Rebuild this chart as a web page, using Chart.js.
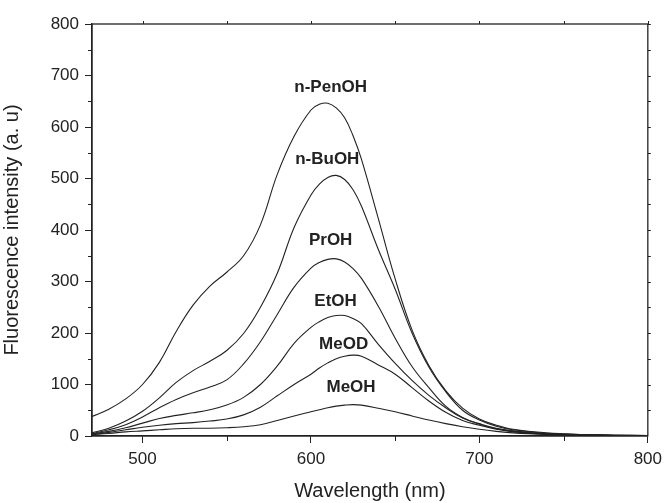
<!DOCTYPE html>
<html>
<head>
<meta charset="utf-8">
<script src="https://cdn.jsdelivr.net/npm/chart.js@4.4.0/dist/chart.umd.min.js"></script>
<style>
  html, body { margin: 0; padding: 0; background: #fff; }
  #wrap { width: 668px; height: 503px; position: relative; }
</style>
</head>
<body>
<div id="wrap"><canvas id="spectra"></canvas></div>
<script>
// wavelength grid (nm) shared by all spectra
const wavelengths = [470, 480, 490, 500, 510, 520, 530, 540, 550, 560, 570, 580, 590, 600, 605, 610, 615, 620, 625, 630, 640, 650, 660, 670, 680, 690, 700, 710, 720, 740, 760, 780, 800];

// fluorescence intensity (a. u)
const nPenOH = [38, 52, 72, 100, 143, 203, 254, 291, 318, 350, 410, 508, 582, 633, 644, 646, 637, 618, 583, 537, 422, 305, 206, 137, 88, 54, 33, 21, 13, 6, 3, 2, 1];
const nBuOH  = [6, 15, 29, 48, 74, 104, 127, 145, 166, 199, 250, 316, 405, 468, 489, 502, 506, 498, 478, 446, 362, 285, 200, 134, 86, 50, 31, 19, 12, 5, 3, 1.5, 1];
const PrOH   = [5, 12, 22, 37, 55, 71, 84, 95, 109, 140, 183, 236, 289, 326, 337, 343, 344, 338, 325, 306, 252, 190, 135, 94, 58, 36, 23, 14, 9, 4, 2, 1, 0.5];
const EtOH   = [4, 9, 16, 25, 34, 40, 45, 51, 60, 75, 100, 136, 180, 211, 222, 230, 234, 234, 228, 218, 178, 141, 108, 79, 55, 35, 24, 15, 10, 4, 2, 1, 0.5];
const MeOD   = [3, 7, 12, 17, 21, 24, 26, 29, 33, 41, 56, 78, 100, 120, 132, 142, 150, 155, 157, 155, 138, 120, 94, 68, 46, 30, 21, 13, 8, 4, 2, 1, 0.5];
const MeOH   = [3, 5, 8, 10, 12, 14, 15, 15, 16, 18, 22, 30, 39, 47, 51, 55, 58, 60, 61, 60, 54, 47, 39, 31, 24, 18, 13, 9, 6, 3, 1.5, 1, 0.5];

const seriesNames = ['n-PenOH', 'n-BuOH', 'PrOH', 'EtOH', 'MeOD', 'MeOH'];
const seriesValues = [nPenOH, nBuOH, PrOH, EtOH, MeOD, MeOH];

// where each curve name sits (data coordinates)
const labelWavelength = [611.7, 609.7, 611.7, 614.6, 619.4, 623.8];
const labelIntensity  = [677, 537, 380, 261, 179, 95];

const xTicks = [500, 600, 700, 800];
const yTicks = [0, 100, 200, 300, 400, 500, 600, 700, 800];

const ink = '#222';

const curveLabels = {
  id: 'curveLabels',
  afterDatasetsDraw(chart) {
    const { ctx, scales: { x, y } } = chart;
    ctx.save();
    ctx.font = 'bold 17px "Liberation Sans", Arial, sans-serif';
    ctx.fillStyle = ink;
    ctx.textAlign = 'center';
    ctx.textBaseline = 'middle';
    seriesNames.forEach((name, i) => {
      ctx.fillText(name, x.getPixelForValue(labelWavelength[i]), y.getPixelForValue(labelIntensity[i]));
    });
    ctx.restore();
  }
};

// box round the plot plus the small 50-step ticks
const frame = {
  id: 'frame',
  afterDraw(chart) {
    const { ctx, chartArea: a, scales: { x, y } } = chart;
    ctx.save();
    ctx.strokeStyle = ink;
    ctx.lineWidth = 1.3;
    ctx.strokeRect(a.left, a.top, a.right - a.left, a.bottom - a.top);
    ctx.lineWidth = 1;
    ctx.beginPath();
    for (let v = 50; v < 800; v += 100) {
      const py = Math.round(y.getPixelForValue(v)) + 0.5;
      ctx.moveTo(a.left - 4, py); ctx.lineTo(a.left, py);
    }
    for (let v = 50; v <= 800; v += 50) {
      const py = Math.round(y.getPixelForValue(v)) + 0.5;
      ctx.moveTo(a.right, py); ctx.lineTo(a.right + 3, py);
    }
    for (let v = 550; v < 800; v += 100) {
      const px = Math.round(x.getPixelForValue(v)) + 0.5;
      ctx.moveTo(px, a.bottom); ctx.lineTo(px, a.bottom + 5);
    }
    for (let v = 500; v <= 800; v += 50) {
      const px = Math.round(x.getPixelForValue(v)) + 0.5;
      ctx.moveTo(px, a.top); ctx.lineTo(px, a.top - 3);
    }
    ctx.stroke();
    ctx.restore();
  }
};

new Chart(document.getElementById('spectra'), {
  type: 'line',
  data: {
    datasets: seriesNames.map((name, i) => ({
      label: name,
      data: wavelengths.map((w, j) => ({ x: w, y: seriesValues[i][j] })),
      borderColor: ink,
      borderWidth: 1.1,
      pointRadius: 0,
      tension: 0.4,
      fill: false
    }))
  },
  options: {
    responsive: true,
    maintainAspectRatio: false,
    devicePixelRatio: 1,
    animation: false,
    layout: { padding: { top: 24, right: 20, left: 0, bottom: 0 } },
    plugins: { legend: { display: false }, tooltip: { enabled: false } },
    scales: {
      x: {
        type: 'linear',
        min: 470,
        max: 800,
        afterBuildTicks: s => { s.ticks = xTicks.map(v => ({ value: v })); },
        afterFit: s => { s.height = 67; },
        grid: { drawOnChartArea: false, tickLength: 7, tickColor: ink, tickWidth: 1 },
        border: { color: ink, width: 1.3 },
        ticks: { color: ink, padding: 6, font: { family: '"Liberation Sans", Arial, sans-serif', size: 17 } },
        title: { display: true, text: 'Wavelength (nm)', color: ink, padding: { top: 4, bottom: 0 },
                 font: { family: '"Liberation Sans", Arial, sans-serif', size: 20 } }
      },
      y: {
        min: 0,
        max: 800,
        afterBuildTicks: s => { s.ticks = yTicks.map(v => ({ value: v })); },
        afterFit: s => { s.width = 92; },
        grid: { drawOnChartArea: false, tickLength: 7, tickColor: ink, tickWidth: 1 },
        border: { color: ink, width: 1.3 },
        ticks: { color: ink, padding: 6, font: { family: '"Liberation Sans", Arial, sans-serif', size: 17 } },
        title: { display: true, text: 'Fluorescence intensity (a. u)', color: ink, padding: { top: 0, bottom: 4 },
                 font: { family: '"Liberation Sans", Arial, sans-serif', size: 20 } }
      }
    }
  },
  plugins: [curveLabels, frame]
});
</script>
</body>
</html>
